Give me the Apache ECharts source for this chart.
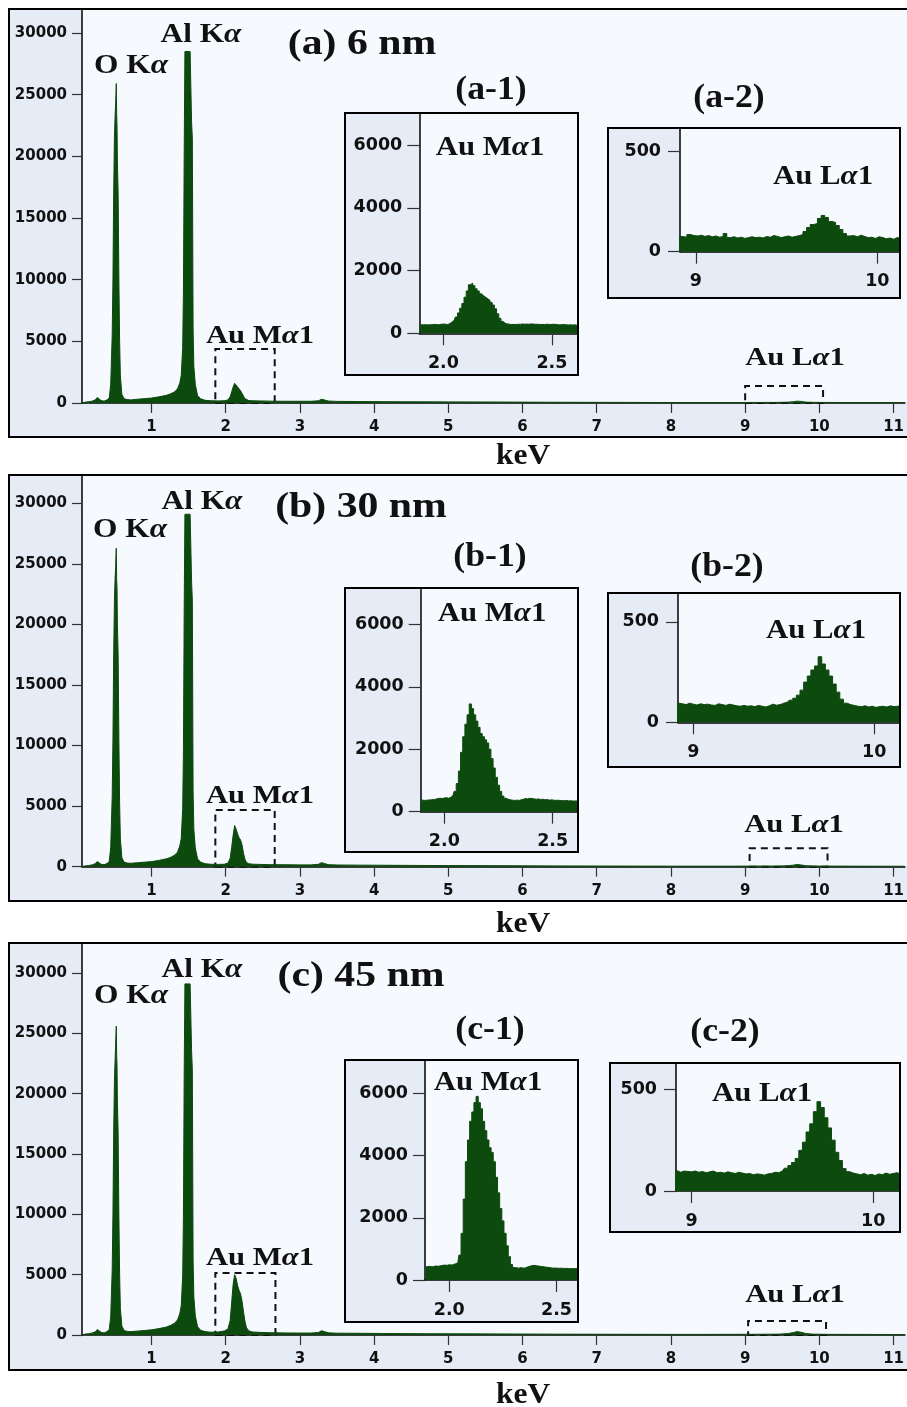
<!DOCTYPE html>
<html>
<head>
<meta charset="utf-8">
<script src="https://cdn.jsdelivr.net/npm/echarts@6/dist/echarts.min.js"></script>
<style>
  html, body { margin: 0; padding: 0; background: #ffffff; }
  #chart { width: 907px; height: 1407px; }
</style>
</head>
<body>
<div id="chart"></div>
<script>
// ---------- EDS spectra of Au on Al2O3 (6, 30 and 45 nm) ----------

// Full-range spectrum channels (keV)
const mainEnergy = [
  0.06, 0.10, 0.15, 0.20, 0.24, 0.27, 0.29, 0.32, 0.36, 0.40,
  0.43, 0.45, 0.47, 0.48, 0.49, 0.50, 0.51, 0.515, 0.52, 0.525,
  0.53, 0.535, 0.54, 0.55, 0.56, 0.57, 0.58, 0.60, 0.63, 0.67,
  0.72, 0.80, 0.90, 1.00, 1.10, 1.20, 1.26, 1.31, 1.35, 1.38,
  1.40, 1.42, 1.43, 1.44, 1.45, 1.46, 1.48, 1.50, 1.52, 1.53,
  1.54, 1.55, 1.56, 1.57, 1.59, 1.62, 1.66, 1.72, 1.80, 1.90,
  1.98, 2.03, 2.06, 2.08, 2.10, 2.12, 2.14, 2.16, 2.18, 2.20,
  2.22, 2.24, 2.26, 2.28, 2.31, 2.36, 2.45, 2.60, 2.80, 3.00,
  3.15, 3.25, 3.29, 3.33, 3.38, 3.50, 3.80, 4.10, 4.40, 4.70,
  5.00, 5.30, 5.60, 6.00, 6.40, 6.80, 7.20, 7.60, 8.00, 8.40,
  8.80, 9.20, 9.45, 9.58, 9.65, 9.70, 9.75, 9.82, 9.92, 10.10,
  10.40, 10.80, 11.15
];

// Counts, full range
const countsA = [
  0, 60, 100, 150, 250, 450, 450, 200, 150, 250,
  400, 1500, 5500, 10000, 17000, 21500, 23500, 24000, 25000, 25900,
  23500, 22500, 19500, 17000, 10000, 5000, 2200, 700, 350, 280,
  250, 300, 350, 400, 500, 620, 750, 900, 1150, 1600,
  2200, 4500, 9000, 20000, 28500, 28500, 28500, 28500, 28500, 28500,
  22700, 21500, 6000, 3000, 1500, 600, 350, 220, 180, 170,
  180, 250, 500, 900, 1300, 1600, 1450, 1300, 1150, 1000,
  850, 550, 350, 250, 200, 180, 170, 150, 140, 140,
  140, 180, 300, 250, 160, 130, 120, 110, 100, 95,
  90, 85, 80, 70, 60, 55, 50, 45, 40, 40,
  40, 45, 50, 70, 110, 150, 130, 70, 50, 45,
  40, 35, 30
];
const countsB = [
  0, 60, 100, 150, 250, 420, 420, 200, 160, 260,
  420, 1600, 5800, 10500, 17500, 22000, 24000, 24500, 25500, 26300,
  23700, 23000, 20000, 17500, 10500, 5200, 2300, 750, 380, 300,
  280, 320, 370, 420, 520, 650, 780, 950, 1200, 1700,
  2300, 4800, 9500, 21000, 29100, 29100, 29100, 29100, 29100, 29100,
  23500, 22000, 6200, 3100, 1550, 650, 380, 250, 200, 190,
  200, 300, 700, 1600, 2600, 3400, 3100, 2700, 2400, 2200,
  1800, 1100, 600, 350, 250, 210, 190, 170, 160, 150,
  150, 200, 330, 270, 170, 140, 130, 120, 110, 100,
  95, 90, 85, 75, 65, 60, 55, 50, 45, 45,
  45, 50, 55, 80, 130, 180, 150, 80, 55, 50,
  45, 40, 35
];
const countsC = [
  0, 70, 110, 160, 260, 450, 430, 220, 170, 280,
  450, 1500, 5400, 10000, 16800, 21000, 23000, 23800, 24800, 25600,
  23200, 22300, 19300, 16800, 9800, 5000, 2200, 750, 380, 300,
  280, 320, 370, 430, 530, 660, 800, 980, 1250, 1750,
  2400, 4900, 9800, 21500, 29100, 29100, 29100, 29100, 29100, 29100,
  23500, 22000, 6300, 3200, 1600, 700, 400, 280, 230, 250,
  330, 500, 1200, 2700, 4200, 5000, 4700, 4100, 3700, 3400,
  2800, 1900, 1100, 600, 350, 250, 220, 190, 170, 160,
  160, 210, 350, 280, 180, 150, 140, 125, 115, 105,
  100, 95, 90, 80, 70, 65, 60, 55, 50, 50,
  55, 60, 70, 120, 200, 280, 230, 120, 70, 55,
  50, 45, 40
];

// Au M-line window channels (keV)
const mEnergy = [
  1.89, 1.90, 1.91, 1.92, 1.93, 1.94, 1.95, 1.96, 1.97, 1.98, 1.99,
  2.00, 2.01, 2.02, 2.03, 2.04, 2.05, 2.06, 2.07, 2.08, 2.09,
  2.10, 2.11, 2.12, 2.13, 2.14, 2.15, 2.16, 2.17, 2.18, 2.19,
  2.20, 2.21, 2.22, 2.23, 2.24, 2.25, 2.26, 2.27, 2.28, 2.29,
  2.30, 2.31, 2.32, 2.33, 2.34, 2.35, 2.36, 2.37, 2.38, 2.39,
  2.40, 2.41, 2.42, 2.43, 2.44, 2.45, 2.46, 2.47, 2.48, 2.49,
  2.50, 2.51, 2.52, 2.53, 2.54, 2.55, 2.56, 2.57, 2.58, 2.59,
  2.60, 2.61, 2.62
];
const mCountsA = [
  270, 270, 270, 270, 270, 270, 280, 285, 280, 270, 290,
  295, 290, 280, 310, 360, 420, 520, 650, 800, 950,
  1150, 1350, 1550, 1600, 1520, 1420, 1350, 1260, 1200, 1150,
  1100, 1050, 980, 900, 780, 620, 480, 380, 320, 300,
  290, 280, 285, 280, 290, 285, 300, 290, 295, 290,
  300, 295, 285, 290, 280, 285, 280, 290, 285, 280,
  290, 285, 280, 270, 275, 280, 270, 265, 270, 265,
  270, 260, 260
];
const mCountsB = [
  380, 370, 360, 370, 375, 380, 390, 400, 420, 430, 420,
  440, 450, 430, 460, 520, 650, 900, 1300, 1900, 2400,
  2800, 3100, 3450, 3300, 3100, 2900, 2700, 2500, 2400, 2300,
  2200, 2000, 1700, 1400, 1100, 850, 650, 500, 430, 400,
  380, 370, 360, 370, 360, 380, 400, 420, 410, 430,
  420, 410, 400, 410, 390, 400, 380, 390, 370, 380,
  370, 360, 370, 355, 360, 350, 360, 345, 350, 340,
  345, 340, 335
];
const mCountsC = [
  420, 430, 440, 420, 440, 450, 440, 460, 470, 480, 470,
  490, 480, 500, 520, 550, 800, 1500, 2600, 3800, 4500,
  5100, 5400, 5700, 5900, 5700, 5500, 5100, 4800, 4500, 4250,
  4100, 3800, 3300, 2800, 2300, 1900, 1500, 1100, 750, 500,
  400, 390, 380, 400, 380, 390, 420, 440, 460, 470,
  460, 450, 440, 430, 420, 410, 400, 390, 380, 385,
  380, 375, 380, 370, 375, 370, 365, 370, 365, 370,
  360, 365, 360
];

// Au L-line window channels (keV)
const lEnergy = [
  8.90, 8.92, 8.94, 8.96, 8.98, 9.00, 9.02, 9.04, 9.06, 9.08,
  9.10, 9.12, 9.14, 9.16, 9.18, 9.20, 9.22, 9.24, 9.26, 9.28,
  9.30, 9.32, 9.34, 9.36, 9.38, 9.40, 9.42, 9.44, 9.46, 9.48,
  9.50, 9.52, 9.54, 9.56, 9.58, 9.60, 9.62, 9.64, 9.66, 9.68,
  9.70, 9.72, 9.74, 9.76, 9.78, 9.80, 9.82, 9.84, 9.86, 9.88,
  9.90, 9.92, 9.94, 9.96, 9.98, 10.00, 10.02, 10.04, 10.06, 10.08,
  10.10, 10.12, 10.14, 10.16
];
const lCountsA = [
  60, 75, 72, 85, 80, 78, 82, 76, 80, 74,
  78, 72, 75, 90, 70, 74, 68, 72, 66, 70,
  74, 70, 72, 68, 75, 72, 80, 76, 70, 74,
  78, 72, 76, 80, 85, 100, 120, 135, 140, 165,
  180, 170, 150, 145, 130, 110, 90, 78, 80, 74,
  82, 76, 70, 72, 66, 74, 70, 64, 68, 62,
  70, 66, 72, 68
];
const lCountsB = [
  100, 95, 92, 88, 95, 90, 86, 92, 88, 90,
  86, 84, 92, 88, 84, 90, 86, 82, 80, 84,
  80, 82, 78, 84, 80, 76, 82, 90, 85, 88,
  95, 100, 110, 120, 135, 160, 200, 230, 260, 280,
  326, 290, 260, 230, 190, 150, 115, 95, 88, 84,
  80, 78, 82, 76, 80, 74, 78, 80, 76, 82,
  78, 80, 84, 86
];
const lCountsC = [
  95, 100, 92, 98, 96, 94, 98, 92, 96, 90,
  94, 98, 90, 92, 88, 94, 90, 86, 92, 88,
  84, 86, 80, 84, 82, 78, 84, 86, 92, 90,
  98, 112, 125, 140, 160, 200, 240, 290, 330, 390,
  439, 410, 360, 310, 250, 190, 150, 110, 95, 88,
  84, 80, 86, 78, 82, 76, 84, 80, 88, 82,
  86, 90, 84, 88
];

// Tick values
const mainXTicks = [1, 2, 3, 4, 5, 6, 7, 8, 9, 10, 11];
const mainYTicks = [0, 5000, 10000, 15000, 20000, 25000, 30000];
const mXTicks = [2.0, 2.5];
const mYTicks = [0, 2000, 4000, 6000];
const lXTicks = [9, 10];
const lYTicks = [0, 500];

// Dashed zoom windows in the full spectra: [keV from, keV to, counts top]
const windowsA = [[1.86, 2.66, 4380], [9.0, 10.05, 1380]];
const windowsB = [[1.86, 2.66, 4680], [9.06, 10.11, 1520]];
const windowsC = [[1.86, 2.67, 5140], [9.04, 10.09, 1160]];

// Text
const panelTitles = ['(a) 6 nm', '(b) 30 nm', '(c) 45 nm'];
const insetTitles = [['(a-1)', '(a-2)'], ['(b-1)', '(b-2)'], ['(c-1)', '(c-2)']];

// ---------- styling / layout ----------
const GREEN = '#0c4a0e';
const FRAME_FILL = '#e5ecf6';
const PLOT_FILL = '#f6f9fd';
const INK = '#111111';

const panels = [
  {
    frame: [9, 9, 905, 428], grid: [82, 9, 825, 394], yMax: 31950,
    counts: countsA, windows: windowsA,
    m: { frame: [345, 113, 233, 262], grid: [419.3, 113, 158.7, 220.3], x: [1.889, 2.62], yMax: 7027, counts: mCountsA },
    l: { frame: [608, 128, 292, 170], grid: [680, 128, 220, 123.7], x: [8.912, 10.125], yMax: 614, counts: lCountsA },
    text: { o: [131, 66], al: [201, 35], title: [362, 45], auM: [260, 336], auL: [795, 358],
            t1: [491, 90], t2: [729, 98], inM: [490, 148], inL: [823, 177], kev: [523, 456] }
  },
  {
    frame: [9, 475, 905, 426], grid: [82, 475, 825, 391.7], yMax: 32340,
    counts: countsB, windows: windowsB,
    m: { frame: [345, 588, 233, 264], grid: [420.7, 588, 157.3, 223.7], x: [1.891, 2.617], yMax: 7162, counts: mCountsB },
    l: { frame: [608, 593, 292, 174], grid: [678, 593, 222, 129.3], x: [8.915, 10.143], yMax: 643, counts: lCountsB },
    text: { o: [130, 530], al: [202, 502], title: [361, 508], auM: [260, 796], auL: [794, 825],
            t1: [490, 557], t2: [727, 567], inM: [492, 614], inL: [816, 631], kev: [523, 924] }
  },
  {
    frame: [9, 943, 905, 427], grid: [82, 943, 825, 392], yMax: 32490,
    counts: countsC, windows: windowsC,
    m: { frame: [345, 1060, 233, 262], grid: [425, 1060, 153, 220], x: [1.887, 2.60], yMax: 7070, counts: mCountsC },
    l: { frame: [610, 1063, 290, 169], grid: [676, 1063, 224, 128], x: [8.914, 10.147], yMax: 629, counts: lCountsC },
    text: { o: [131, 996], al: [202, 970], title: [361, 977], auM: [260, 1258], auL: [795, 1295],
            t1: [490, 1030], t2: [725, 1032], inM: [488, 1083], inL: [762, 1094], kev: [523, 1395] }
  }
];

const grids = [], xAxes = [], yAxes = [], series = [], elements = [];

function pairs(xs, ys) { return xs.map((x, i) => [x, ys[i]]); }

function rect(r, z, fill, stroke) {
  elements.push({
    type: 'rect', silent: true, z: z,
    shape: { x: r[0], y: r[1], width: r[2], height: r[3] },
    style: stroke ? { fill: 'none', stroke: '#000', lineWidth: 2 } : { fill: fill }
  });
}

function serifText(str, pos, size, sx) {
  const body = '{r|' + str.split('α').join('}{i|α}{r|') + '}';
  const base = { fontFamily: 'Liberation Serif', fontWeight: 'bold', fontSize: size, fill: INK };
  elements.push({
    type: 'text', silent: true, z: 60, x: pos[0], y: pos[1], scaleX: sx || 1,
    style: {
      text: body, align: 'center', verticalAlign: 'middle', fill: INK,
      rich: { r: base, i: Object.assign({}, base, { fontStyle: 'italic' }) }
    }
  });
}

function addPlot(o) {
  const idx = grids.length;
  grids.push({ left: o.grid[0], top: o.grid[1], width: o.grid[2], height: o.grid[3], show: false });
  const labelStyle = { color: INK, fontFamily: 'DejaVu Sans', fontWeight: 'bold', fontSize: o.fontSize };
  xAxes.push({
    type: 'value', gridIndex: idx, min: o.x[0], max: o.x[1],
    axisLine: { show: true, onZero: false, lineStyle: { color: '#000', width: 1.5 } },
    axisTick: { show: true, length: o.tickLen, customValues: o.xTicks, lineStyle: { color: '#333', width: 1.2 } },
    axisLabel: Object.assign({ customValues: o.xTicks, margin: o.xMargin, formatter: o.xFmt }, labelStyle),
    splitLine: { show: false }
  });
  yAxes.push({
    type: 'value', gridIndex: idx, min: 0, max: o.yMax,
    axisLine: { show: true, onZero: false, lineStyle: { color: '#000', width: 1.5 } },
    axisTick: { show: true, length: o.tickLen, customValues: o.yTicks, lineStyle: { color: '#333', width: 1.2 } },
    axisLabel: Object.assign({ customValues: o.yTicks, margin: o.yMargin, formatter: v => String(v) }, labelStyle),
    splitLine: { show: false }
  });
  const s = {
    type: 'line', xAxisIndex: idx, yAxisIndex: idx, data: o.data,
    symbol: 'none', showSymbol: false, silent: true, animation: false, clip: true,
    step: o.step || false,
    lineStyle: { color: GREEN, width: 1 },
    areaStyle: { color: GREEN, opacity: 1 }
  };
  if (o.windows) {
    s.markArea = {
      silent: true, label: { show: false },
      itemStyle: { color: 'rgba(0,0,0,0)', borderColor: INK, borderWidth: 2, borderType: [7, 5] },
      data: o.windows.map(w => [{ coord: [w[0], 0] }, { coord: [w[1], w[2]] }])
    };
  }
  series.push(s);
  rect(o.grid, o.fillZ, PLOT_FILL);
}

panels.forEach((p, k) => {
  // outer frames
  rect(p.frame, -40, FRAME_FILL);
  rect(p.frame, 50, null, true);
  rect(p.m.frame, -20, FRAME_FILL);
  rect(p.m.frame, 50, null, true);
  rect(p.l.frame, -20, FRAME_FILL);
  rect(p.l.frame, 50, null, true);

  addPlot({
    grid: p.grid, x: [0.063, 11.153], yMax: p.yMax, xTicks: mainXTicks, yTicks: mainYTicks,
    xFmt: v => String(v), fontSize: 15, tickLen: 10, xMargin: 17, yMargin: 15,
    data: pairs(mainEnergy, p.counts), windows: p.windows, fillZ: -30
  });
  addPlot({
    grid: p.m.grid, x: p.m.x, yMax: p.m.yMax, xTicks: mXTicks, yTicks: mYTicks,
    xFmt: v => v.toFixed(1), fontSize: 17.5, tickLen: 12, xMargin: 21, yMargin: 17,
    data: pairs(mEnergy, p.m.counts), step: 'middle', fillZ: -10
  });
  addPlot({
    grid: p.l.grid, x: p.l.x, yMax: p.l.yMax, xTicks: lXTicks, yTicks: lYTicks,
    xFmt: v => String(v), fontSize: 17.5, tickLen: 12, xMargin: 21, yMargin: 19,
    data: pairs(lEnergy, p.l.counts), step: 'middle', fillZ: -10
  });

  const t = p.text;
  serifText('O Kα', t.o, 28, 1.12);
  serifText('Al Kα', t.al, 28, 1.12);
  serifText(panelTitles[k], t.title, 36, 1.16);
  serifText('Au Mα1', t.auM, 26, 1.18);
  serifText('Au Lα1', t.auL, 26, 1.18);
  serifText(insetTitles[k][0], t.t1, 34, 1.05);
  serifText(insetTitles[k][1], t.t2, 34, 1.05);
  serifText('Au Mα1', t.inM, 28, 1.1);
  serifText('Au Lα1', t.inL, 28, 1.1);
  serifText('keV', t.kev, 30, 1.05);
});

const chart = echarts.init(document.getElementById('chart'), null, { renderer: 'canvas' });
chart.setOption({
  animation: false,
  backgroundColor: '#ffffff',
  grid: grids,
  xAxis: xAxes,
  yAxis: yAxes,
  series: series,
  graphic: { elements: elements }
});
</script>
</body>
</html>
